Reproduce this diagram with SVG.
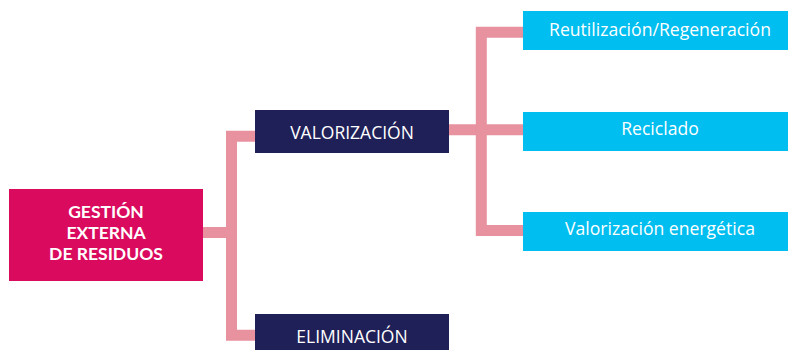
<svg xmlns="http://www.w3.org/2000/svg" width="788" height="350" viewBox="0 0 788 350">
<style>
.conn{fill:none;stroke:#E8919F;stroke-width:11;stroke-linejoin:miter;stroke-linecap:butt}
.t{font-family:"Open Sans","Noto Sans","Liberation Sans",sans-serif;fill:#fff;text-anchor:middle}
.b{font-family:Lato,"Liberation Sans",sans-serif;font-weight:bold;fill:#fff;text-anchor:middle;font-size:17.5px}
.root{fill:#DA0A5E}
.navy{fill:#1F2058}
.cyan{fill:#00BEF0}
</style>
<rect width="788" height="350" fill="#fff"/>
<g id="connectors">
<path class="conn" d="M203,232.5 H231.5"/>
<path class="conn" d="M255,136.3 H231.5 V335.2 H255"/>
<path class="conn" d="M449,129.7 H523"/>
<path class="conn" d="M523,32.2 H481.3 V230.5 H523"/>
</g>
<g id="gestion">
<rect class="root" x="9" y="189" width="194" height="92"/>
<text class="b" x="106" y="218">GESTIÓN</text>
<text class="b" x="106" y="239">EXTERNA</text>
<text class="b" x="106" y="260">DE RESIDUOS</text>
</g>
<g id="valorizacion">
<rect class="navy" x="255" y="110" width="194" height="43"/>
<text class="t" font-size="17.5" x="352" y="139">VALORIZACIÓN</text>
</g>
<g id="eliminacion">
<rect class="navy" x="255" y="314" width="194" height="43"/>
<text class="t" font-size="17.5" x="352" y="343">ELIMINACIÓN</text>
</g>
<g id="reutilizacion">
<rect class="cyan" x="523" y="11" width="270" height="39"/>
<text class="t" font-size="17.6" x="660" y="36">Reutilización/Regeneración</text>
</g>
<g id="reciclado">
<rect class="cyan" x="523" y="112" width="270" height="39"/>
<text class="t" font-size="17.6" x="660" y="135">Reciclado</text>
</g>
<g id="energetica">
<rect class="cyan" x="523" y="212" width="270" height="39"/>
<text class="t" font-size="17.6" x="660" y="235">Valorización energética</text>
</g>
</svg>
